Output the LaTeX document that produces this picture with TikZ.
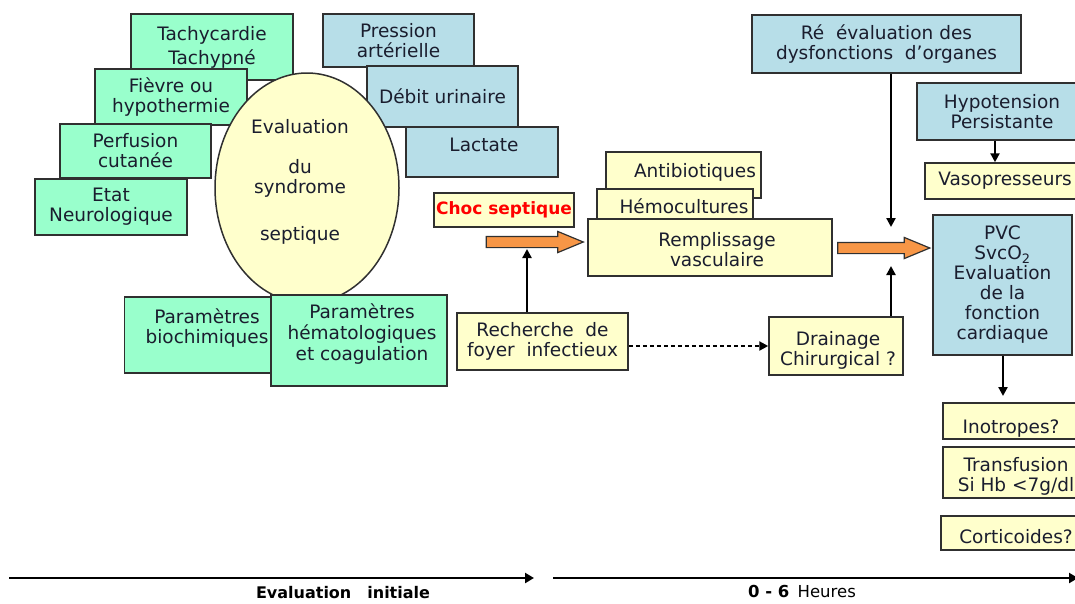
\documentclass[tikz,border=0pt]{standalone}
\usepackage{fontspec}
\setmainfont{DejaVu Sans}
\usetikzlibrary{shapes.geometric,shapes.arrows,arrows.meta,calc}
\definecolor{gfill}{HTML}{99FFCC}
\definecolor{bfill}{HTML}{B7DEE8}
\definecolor{yfill}{HTML}{FFFFCC}
\definecolor{ofill}{HTML}{F79646}
\definecolor{txt}{HTML}{1A1D2E}
\definecolor{edge}{HTML}{303030}
\newcommand\bt{\fontsize{18.5}{20}\selectfont}
\begin{document}
\begin{tikzpicture}[x=1pt,y=-1pt,
  box/.style={draw=edge,line width=1.5pt,inner sep=0pt,align=center,font=\bt,text=txt},
  gbox/.style={box,fill=gfill},
  bbox/.style={box,fill=bfill},
  ybox/.style={box,fill=yfill},
  lbl/.style={font=\bt,text=txt,align=center,inner sep=0pt},
  arr/.style={line width=2.2pt,draw=black,-{Triangle[length=9pt,width=9pt]}},
  darr/.style={arr,dashed,dash pattern=on 4pt off 3pt},
  tl/.style={line width=2.5pt,draw=black,-{Triangle[length=9pt,width=10pt]}},
  oarrow/.style={single arrow,draw=edge,fill=ofill,line width=1.2pt,minimum width=20pt,
    single arrow head extend=5pt,single arrow tip angle=45,inner xsep=0pt,inner ysep=5pt}]
\useasboundingbox (0,0) rectangle (1075,603);
\fill[white] (0,0) rectangle (1075,603);
\clip (0,0) rectangle (1075,603);

% green boxes (left)
\node[gbox,minimum width=162pt,minimum height=66pt] (tachy) at (212,47) {Tachycardie\\[4pt]Tachypné};
\node[gbox,minimum width=152pt,minimum height=56pt] (fievre) at (171,97) {Fièvre ou\\hypothermie};
\node[gbox,minimum width=151pt,minimum height=54pt] (perf) at (135.5,151) {Perfusion\\cutanée};
\node[gbox,minimum width=152pt,minimum height=56pt] (etat) at (111,207) {Etat\\Neurologique};

% blue boxes (top middle)
\node[bbox,minimum width=151pt,minimum height=53pt] (pression) at (398.5,40.5) {Pression\\artérielle};
\node[bbox,minimum width=151pt,minimum height=61pt] (debit) at (442.5,96.5) {Débit urinaire};
\node[bbox,minimum width=152pt,minimum height=50pt] (lactate) at (482,152) {};
\node[lbl] (lactateT) at (484,145) {Lactate};

% ellipse
\node[ellipse,draw=edge,line width=1.5pt,fill=yfill,minimum width=184pt,minimum height=230pt,inner sep=0pt] (ell) at (307,188) {};
\node[lbl] (ellT) at (300,182) {Evaluation\\[20.5pt]du\\syndrome\\[27pt]septique};

% lower green boxes
\node[gbox,minimum width=165pt,minimum height=76pt] (biochim) at (207,335) {};
\node[lbl] (biochimT) at (207,328) {Paramètres\\biochimiques};
\node[gbox,minimum width=176pt,minimum height=91pt] (hemato) at (359,340.5) {};
\node[lbl] (hematoT) at (362,334) {Paramètres\\[1pt]hématologiques\\[1pt]et coagulation};

% choc septique
\node[ybox,minimum width=140pt,minimum height=34pt,text=red,font=\bfseries\fontsize{17}{18}\selectfont] (choc) at (504,210) {Choc septique};
\node[oarrow,minimum height=97pt] (oa1) at (528,242) {};

% yellow stack
\node[ybox,minimum width=155pt,minimum height=46pt] (antib) at (683.5,175) {};
\node[lbl] (antibT) at (695,172) {Antibiotiques};
\node[ybox,minimum width=156pt,minimum height=31pt] (hemoc) at (675,204.5) {};
\node[lbl] (hemocT) at (684,206) {Hémocultures};
\node[ybox,minimum width=244pt,minimum height=57pt] (rempl) at (710,247.5) {};
\node[lbl] (remplT) at (717,250) {Remplissage\\vasculaire};

\node[ybox,minimum width=171pt,minimum height=57pt] (rech) at (542.5,341.5) {Recherche~ de\\foyer~ infectieux};
\node[ybox,minimum width=134pt,minimum height=58pt] (drain) at (836,346) {};
\node[lbl] (drainT) at (838,350) {Drainage\\Chirurgical ?};

% right column
\node[bbox,minimum width=269pt,minimum height=58pt] (reeval) at (886.5,44) {Ré~ évaluation des\\dysfonctions~ d’organes};
\node[bbox,minimum width=170pt,minimum height=57pt] (hypo) at (1002,111.5) {Hypotension\\Persistante};
\node[ybox,minimum width=160pt,minimum height=36pt] (vaso) at (1005,181) {Vasopresseurs};
\node[bbox,minimum width=139pt,minimum height=140pt] (pvc) at (1002.5,285) {PVC\\SvcO\textsubscript{2}\\Evaluation\\de la\\fonction\\cardiaque};
\node[oarrow,minimum height=92pt] (oa2) at (877,248) {};

\node[ybox,minimum width=142pt,minimum height=36pt] (inot) at (1014,421) {};
\node[lbl] (inotT) at (1011,429) {Inotropes?};
\node[ybox,minimum width=142pt,minimum height=51pt] (transf) at (1014,472.5) {};
\node[lbl] (transfT) at (1016,476) {Transfusion\\Si Hb <7g/dl};
\node[ybox,minimum width=144pt,minimum height=34pt] (cortic) at (1013,533) {};
\node[lbl] (corticT) at (1016,537) {Corticoides?};

% connectors
\coordinate (c1) at (527,249);
\draw[arr] (rech.north -| c1) -- (c1);
\draw[darr] (rech.east |- drain.west) -- (drain.west);
\coordinate (c2) at (891,266);
\draw[arr] (drain.north -| c2) -- (c2);
\coordinate (c3) at (891,227);
\draw[arr] (reeval.south -| c3) -- (c3);
\coordinate (xh) at (995,0);
\draw[arr] (hypo.south -| xh) -- (vaso.north -| xh);
\coordinate (c4) at (1003,396);
\draw[arr] (pvc.south -| c4) -- (c4);

% timeline
\coordinate (t1s) at (9,578);
\coordinate (t1e) at (534,578);
\coordinate (t2s) at (553,578);
\coordinate (t2e) at (1078,578);
\draw[tl] (t1s) -- (t1e);
\draw[tl] (t2s) -- (t2e);
\node[inner sep=0pt,font=\bfseries\fontsize{16}{18}\selectfont] (tl1) at (343,593) {Evaluation\quad initiale};
\node[inner sep=0pt,font=\fontsize{16.5}{18}\selectfont] (tl2) at (802,591) {\bfseries 0 - 6\enspace\mdseries Heures};
\end{tikzpicture}
\end{document}
